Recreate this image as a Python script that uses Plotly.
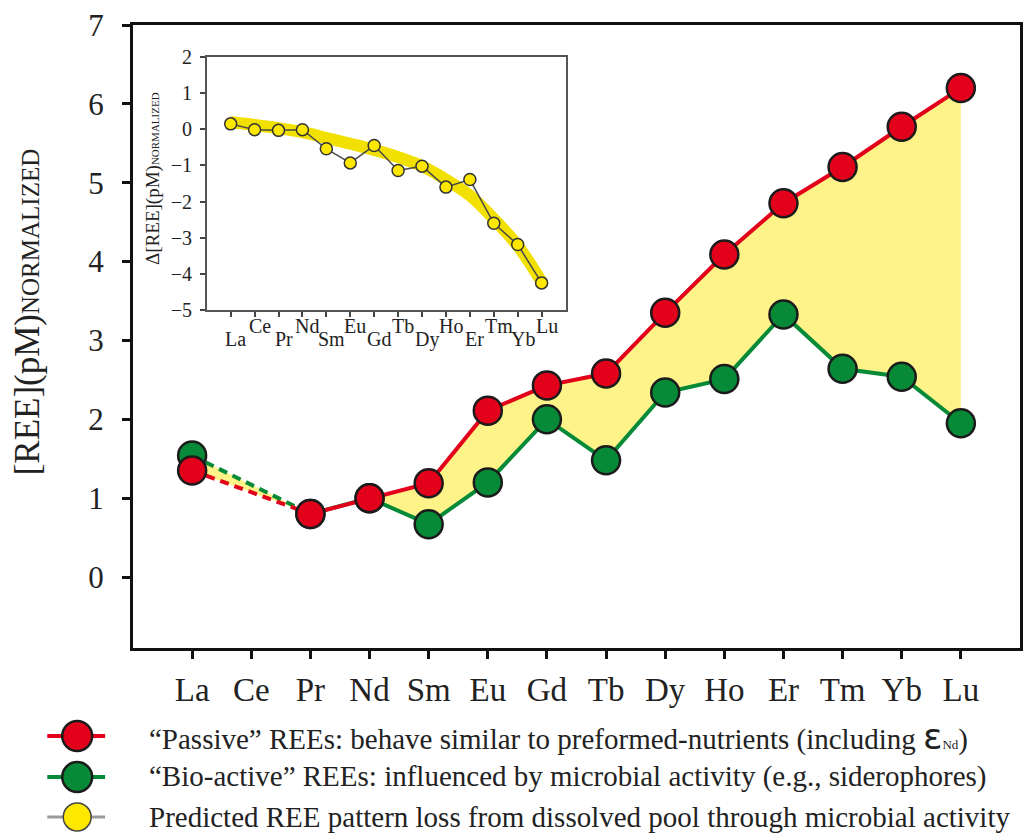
import plotly.graph_objects as go

# ---------------- data ----------------
elements = ["La", "Ce", "Pr", "Nd", "Sm", "Eu", "Gd", "Tb", "Dy", "Ho", "Er", "Tm", "Yb", "Lu"]
# main panel (Ce not measured)
main_elements = ["La", "Pr", "Nd", "Sm", "Eu", "Gd", "Tb", "Dy", "Ho", "Er", "Tm", "Yb", "Lu"]
passive_ree = [1.35, 0.80, 1.00, 1.19, 2.11, 2.43, 2.58, 3.35, 4.09, 4.74, 5.20, 5.71, 6.20]
bioactive_ree = [1.54, 0.80, 1.00, 0.67, 1.20, 2.00, 1.48, 2.34, 2.51, 3.33, 2.64, 2.54, 1.95]
# inset: difference pattern and predicted trend
delta_ree = [0.15, -0.01, -0.03, -0.01, -0.54, -0.93, -0.45, -1.14, -1.02, -1.60, -1.39, -2.60, -3.19, -4.25]
predicted_trend = [0.20, 0.12, 0.03, -0.08, -0.24, -0.40, -0.57, -0.77, -1.02, -1.39, -1.83, -2.48, -3.22, -4.22]

main_y_ticks = [0, 1, 2, 3, 4, 5, 6, 7]
inset_y_ticks = [2, 1, 0, -1, -2, -3, -4, -5]

legend_texts = [
    "“Passive” REEs: behave similar to preformed-nutrients (including "
    "<span style='font-family:DejaVu Sans;font-size:36px'>ε</span><span style='font-size:13px'>Nd</span>)",
    "“Bio-active” REEs: influenced by microbial activity (e.g., siderophores)",
    "Predicted REE pattern loss from dissolved pool through microbial activity",
]

# ---------------- styles ----------------
RED = "#e2001a"
GREEN = "#078a38"
FILL = "rgba(253,242,130,0.95)"
BAND = "#f2e000"
YEL = "#ffe800"
EDGE = "#1b1b1b"
TXT = "#222222"
FONT = "Liberation Serif"

W, H = 1028, 836
L, R, T, B = 133, 1023, 25, 648


def px(x):
    return (x - L) / (R - L)


def py(y):
    return (B - y) / (B - T)


xi = {e: i for i, e in enumerate(elements)}
mx = [xi[e] for e in main_elements]

fig = go.Figure()

# yellow area between passive and bio-active
fig.add_trace(go.Scatter(x=mx, y=bioactive_ree, mode="lines", line=dict(width=0, color=GREEN),
                         hoverinfo="skip", showlegend=False))
fig.add_trace(go.Scatter(x=mx, y=passive_ree, mode="lines", line=dict(width=0, color=RED),
                         fill="tonexty", fillcolor=FILL, hoverinfo="skip", showlegend=False))

# dashed La -> Pr segments
fig.add_trace(go.Scatter(x=mx[:2], y=bioactive_ree[:2], mode="lines",
                         line=dict(color=GREEN, width=4, dash="9px,6px"), showlegend=False))
fig.add_trace(go.Scatter(x=mx[:2], y=passive_ree[:2], mode="lines",
                         line=dict(color=RED, width=4, dash="9px,6px"), showlegend=False))
# solid Pr -> Lu
fig.add_trace(go.Scatter(x=mx[1:], y=bioactive_ree[1:], mode="lines",
                         line=dict(color=GREEN, width=4), showlegend=False))
fig.add_trace(go.Scatter(x=mx[1:], y=passive_ree[1:], mode="lines",
                         line=dict(color=RED, width=4), showlegend=False))
# markers
fig.add_trace(go.Scatter(x=mx, y=bioactive_ree, mode="markers",
                         marker=dict(size=28, color=GREEN, line=dict(color=EDGE, width=2.5)),
                         showlegend=False))
fig.add_trace(go.Scatter(x=mx, y=passive_ree, mode="markers",
                         marker=dict(size=28, color=RED, line=dict(color=EDGE, width=2.5)),
                         showlegend=False))

# inset
ix = list(range(len(elements)))
fig.add_trace(go.Scatter(x=ix, y=predicted_trend, mode="lines", xaxis="x2", yaxis="y2",
                         line=dict(color=BAND, width=12, shape="spline", smoothing=1.0),
                         showlegend=False))
fig.add_trace(go.Scatter(x=ix, y=delta_ree, mode="lines+markers", xaxis="x2", yaxis="y2",
                         line=dict(color="#4a4a4a", width=1.5),
                         marker=dict(size=12, color=YEL, line=dict(color="#333333", width=1.5)),
                         showlegend=False))

shapes = []
annotations = []

# legend (drawn manually to match large symbols)
leg_rows = [736, 777, 817]
leg_line_colors = [RED, GREEN, "#9a9a9a"]
leg_fill = [RED, GREEN, YEL]
leg_line_w = [4, 4, 3]
for k, yy in enumerate(leg_rows):
    shapes.append(dict(type="line", xref="paper", yref="paper", x0=px(47), x1=px(105), y0=py(yy), y1=py(yy),
                       line=dict(color=leg_line_colors[k], width=leg_line_w[k])))
    r = 15 if k < 2 else 14
    shapes.append(dict(type="circle", xref="paper", yref="paper",
                       x0=px(77 - r), x1=px(77 + r), y0=py(yy + r), y1=py(yy - r),
                       fillcolor=leg_fill[k], line=dict(color=EDGE if k < 2 else "#444444", width=2.5 if k < 2 else 1.5)))
    annotations.append(dict(xref="paper", yref="paper", x=px(147), y=py(yy), xanchor="left", yanchor="middle",
                            text=legend_texts[k], showarrow=False,
                            font=dict(family=FONT, size=29, color=TXT)))

# main y title
annotations.append(dict(xref="paper", yref="paper", x=px(27), y=py(312), textangle=-90,
                        xanchor="center", yanchor="middle", showarrow=False,
                        text="[REE](pM)<span style='font-size:25px'>NORMALIZED</span>",
                        font=dict(family=FONT, size=35, color=TXT)))
# inset y title
annotations.append(dict(xref="paper", yref="paper", x=px(153), y=py(178), textangle=-90,
                        xanchor="center", yanchor="middle", showarrow=False,
                        text="Δ[REE](pM)<span style='font-size:11px'>NORMALIZED</span>",
                        font=dict(family=FONT, size=19, color=TXT)))
# inset staggered tick labels
for i, e in enumerate(elements):
    annotations.append(dict(xref="x2", yref="paper", x=i, y=py(339 if i % 2 == 0 else 326),
                            xanchor="center", yanchor="middle", xshift=5, showarrow=False,
                            text=e, font=dict(family=FONT, size=20, color=TXT)))

fig.update_layout(
    width=W, height=H,
    margin=dict(l=L, r=W - R, t=T, b=H - B),
    paper_bgcolor="white", plot_bgcolor="white",
    showlegend=False,
    shapes=shapes, annotations=annotations,
    xaxis=dict(domain=[0, 1], range=[-1, 14], tickmode="array", tickvals=list(range(len(elements))),
               ticktext=elements, ticks="outside", ticklen=8, tickwidth=2.5, tickcolor="#111",
               showline=True, linewidth=3, linecolor="#111", mirror=True, showgrid=False, zeroline=False,
               tickfont=dict(family=FONT, size=33, color=TXT), ticklabelstandoff=2),
    yaxis=dict(domain=[0, 1], range=[-0.9, 7], tickmode="array", tickvals=main_y_ticks,
               ticks="outside", ticklen=8, tickwidth=2.5, tickcolor="#111",
               showline=True, linewidth=3, linecolor="#111", mirror=True, showgrid=False, zeroline=False,
               tickfont=dict(family=FONT, size=31, color=TXT), ticklabelstandoff=12),
    xaxis2=dict(domain=[px(207), px(567)], anchor="y2", range=[-1, 14], tickmode="array",
                tickvals=list(range(len(elements))), ticktext=[""] * len(elements),
                ticks="outside", ticklen=5, tickwidth=1.5, tickcolor="#444",
                showline=True, linewidth=1.5, linecolor="#555", mirror=True, showgrid=False, zeroline=False),
    yaxis2=dict(domain=[py(310), py(57)], anchor="x2", range=[-5, 2], tickmode="array",
                tickvals=inset_y_ticks, ticks="outside", ticklen=5, tickwidth=1.5, tickcolor="#444",
                showline=True, linewidth=1.5, linecolor="#555", mirror=True, showgrid=False, zeroline=False,
                tickfont=dict(family=FONT, size=20, color=TXT), ticklabelstandoff=4),
)

fig.write_html("out.html")
